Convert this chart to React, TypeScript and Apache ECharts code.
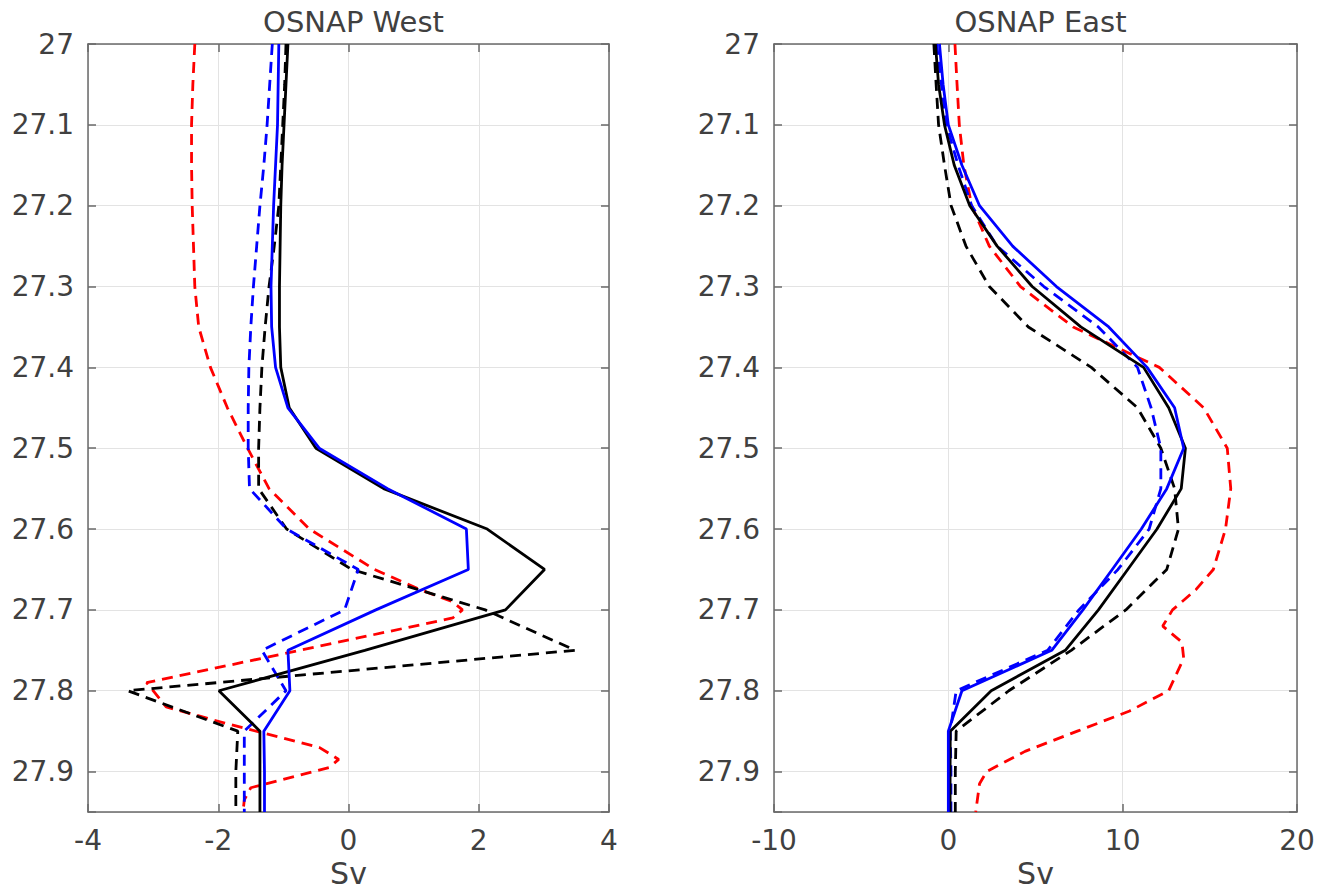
import React, { useEffect, useRef } from "react";
import * as echarts from "echarts";

// Density levels (y) shared by most profiles
const levels = [27.0, 27.05, 27.1, 27.15, 27.2, 27.25, 27.3, 27.35, 27.4, 27.45, 27.5, 27.55, 27.6, 27.65, 27.7, 27.75, 27.8, 27.85, 27.9, 27.95];

// OSNAP West (Sv)
const westBlackSolid = [-0.93, -0.96, -0.99, -1.02, -1.04, -1.05, -1.06, -1.06, -1.04, -0.91, -0.5, 0.54, 2.13, 3.01, 2.41, 0.25, -1.99, -1.36, -1.36, -1.36];
const westBlueSolid = [-1.07, -1.08, -1.09, -1.12, -1.15, -1.17, -1.19, -1.18, -1.12, -0.93, -0.45, 0.6, 1.81, 1.84, 0.42, -0.93, -0.9, -1.3, -1.29, -1.29];
const westBlackDashed = [-0.96, -0.98, -1.01, -1.04, -1.07, -1.14, -1.22, -1.28, -1.33, -1.36, -1.38, -1.38, -0.95, 0.05, 2.1, 3.48, -3.39, -1.7, -1.73, -1.73];
const westBlueDashed = [-1.17, -1.21, -1.25, -1.3, -1.36, -1.41, -1.46, -1.5, -1.53, -1.54, -1.54, -1.52, -0.95, 0.15, -0.06, -1.33, -0.96, -1.6, -1.6, -1.6];
const westRedLevels = [27.0, 27.05, 27.1, 27.15, 27.2, 27.25, 27.3, 27.35, 27.4, 27.45, 27.5, 27.55, 27.6, 27.65, 27.675, 27.69, 27.7, 27.71, 27.79, 27.8, 27.82, 27.84, 27.87, 27.885, 27.895, 27.92, 27.935, 27.95];
const westRedDashed = [-2.36, -2.39, -2.41, -2.41, -2.4, -2.38, -2.36, -2.3, -2.12, -1.86, -1.55, -1.22, -0.6, 0.4, 1.1, 1.6, 1.75, 1.6, -3.1, -3.0, -2.8, -1.9, -0.45, -0.15, -0.3, -1.5, -1.6, -1.62];

// OSNAP East (Sv)
const eastBlackSolid = [-0.74, -0.56, -0.22, 0.34, 1.23, 2.8, 4.81, 7.6, 11.2, 12.64, 13.6, 13.36, 11.97, 10.29, 8.61, 6.71, 2.46, 0.11, 0.1, 0.1];
const eastBlueSolid = [-0.51, -0.3, 0.0, 0.78, 1.79, 3.69, 6.2, 9.2, 11.4, 12.98, 13.5, 12.53, 11.07, 9.4, 7.72, 5.93, 0.78, 0.0, 0.0, 0.0];
const eastBlackDashed = [-0.83, -0.7, -0.56, -0.22, 0.16, 1.01, 2.35, 4.59, 8.2, 10.85, 12.19, 12.98, 13.2, 12.53, 10.18, 7.05, 3.47, 0.45, 0.4, 0.4];
const eastBlueDashed = [-0.67, -0.4, -0.11, 0.56, 1.34, 2.8, 5.48, 8.6, 10.85, 11.63, 12.19, 12.19, 11.52, 9.73, 7.49, 5.7, 0.45, 0.11, 0.15, 0.15];
const eastRedLevels = [27.0, 27.05, 27.1, 27.15, 27.2, 27.25, 27.3, 27.35, 27.4, 27.45, 27.5, 27.55, 27.6, 27.65, 27.675, 27.7, 27.72, 27.74, 27.76, 27.8, 27.825, 27.85, 27.875, 27.9, 27.915, 27.95];
const eastRedDashed = [0.38, 0.5, 0.63, 0.89, 1.34, 2.35, 4.14, 7.16, 12.1, 14.65, 16.0, 16.2, 15.9, 15.2, 14.2, 12.86, 12.3, 13.4, 13.5, 12.64, 10.4, 7.4, 4.4, 2.2, 1.79, 1.57];

const titles = ["OSNAP West", "OSNAP East"];
const xRanges = [
  { min: -4, max: 4, interval: 2 },
  { min: -10, max: 20, interval: 10 },
];
const yRange = { min: 27, max: 27.95, interval: 0.1 };

const FONT = "DejaVu Sans";
const TEXT = "#404040";
const AXIS = "#6a6a6a";

function pairs(xs: number[], ys: number[]) {
  return xs.map((x, i) => [x, ys[i]]);
}

export default function App() {
  const ref = useRef<HTMLDivElement>(null);
  useEffect(() => {
    if (!ref.current) return;
    const chart = echarts.init(ref.current, null, { renderer: "svg" });

    const grids = [
      { left: 88, top: 44, width: 521, height: 768 },
      { left: 774, top: 44, width: 523, height: 768 },
    ];

    const xAxes: any[] = [];
    const yAxes: any[] = [];
    grids.forEach((_, g) => {
      const r = xRanges[g];
      xAxes.push({
        type: "value", gridIndex: g, position: "bottom", ...r,
        name: "Sv", nameLocation: "middle", nameGap: 46,
        nameTextStyle: { fontFamily: FONT, fontSize: 30, color: TEXT },
        axisLine: { show: true, onZero: false, lineStyle: { color: AXIS, width: 1.5 } },
        axisTick: { show: true, inside: true, length: 8, lineStyle: { color: AXIS, width: 1.5 } },
        axisLabel: { fontFamily: FONT, fontSize: 28, color: TEXT, margin: 14 },
        splitLine: { show: true, lineStyle: { color: "#e3e3e3", width: 1 } },
      });
      xAxes.push({
        type: "value", gridIndex: g, position: "top", ...r,
        axisLine: { show: true, onZero: false, lineStyle: { color: AXIS, width: 1.5 } },
        axisTick: { show: true, inside: true, length: 8, lineStyle: { color: AXIS, width: 1.5 } },
        axisLabel: { show: false },
        splitLine: { show: false },
      });
      yAxes.push({
        type: "value", gridIndex: g, position: "left", inverse: true, ...yRange,
        axisLine: { show: true, onZero: false, lineStyle: { color: AXIS, width: 1.5 } },
        axisTick: { show: true, inside: true, length: 8, lineStyle: { color: AXIS, width: 1.5 } },
        axisLabel: {
          fontFamily: FONT, fontSize: 28, color: TEXT, margin: 14,
          formatter: (v: number) => (Math.abs(v - 27.95) < 1e-6 ? "" : String(Math.round(v * 10) / 10)),
        },
        splitLine: { show: true, lineStyle: { color: "#e3e3e3", width: 1 } },
      });
      yAxes.push({
        type: "value", gridIndex: g, position: "right", inverse: true, ...yRange,
        axisLine: { show: true, onZero: false, lineStyle: { color: AXIS, width: 1.5 } },
        axisTick: { show: true, inside: true, length: 8, lineStyle: { color: AXIS, width: 1.5 } },
        axisLabel: { show: false },
        splitLine: { show: false },
      });
    });

    const mk = (data: number[][], g: number, color: string, dashed: boolean) => ({
      type: "line",
      xAxisIndex: g * 2,
      yAxisIndex: g * 2,
      data,
      showSymbol: false,
      symbol: "none",
      silent: true,
      lineStyle: { color, width: 2.8, type: dashed ? [11, 7] : "solid" },
    });

    const series = [
      mk(pairs(westRedDashed, westRedLevels), 0, "#ff0000", true),
      mk(pairs(westBlackDashed, levels), 0, "#000000", true),
      mk(pairs(westBlueDashed, levels), 0, "#0000ff", true),
      mk(pairs(westBlackSolid, levels), 0, "#000000", false),
      mk(pairs(westBlueSolid, levels), 0, "#0000ff", false),
      mk(pairs(eastRedDashed, eastRedLevels), 1, "#ff0000", true),
      mk(pairs(eastBlackDashed, levels), 1, "#000000", true),
      mk(pairs(eastBlueDashed, levels), 1, "#0000ff", true),
      mk(pairs(eastBlackSolid, levels), 1, "#000000", false),
      mk(pairs(eastBlueSolid, levels), 1, "#0000ff", false),
    ];

    chart.setOption({
      animation: false,
      backgroundColor: "#ffffff",
      title: titles.map((t, g) => ({
        text: t,
        left: grids[g].left + grids[g].width / 2,
        top: 2,
        textAlign: "center",
        textStyle: { fontFamily: FONT, fontSize: 29, fontWeight: "normal", color: TEXT },
      })),
      grid: grids,
      xAxis: xAxes,
      yAxis: yAxes,
      series,
    });
    return () => chart.dispose();
  }, []);

  return (
    <div
      ref={ref}
      style={{ position: "absolute", left: 0, top: 0, width: 1321, height: 895 }}
    />
  );
}
